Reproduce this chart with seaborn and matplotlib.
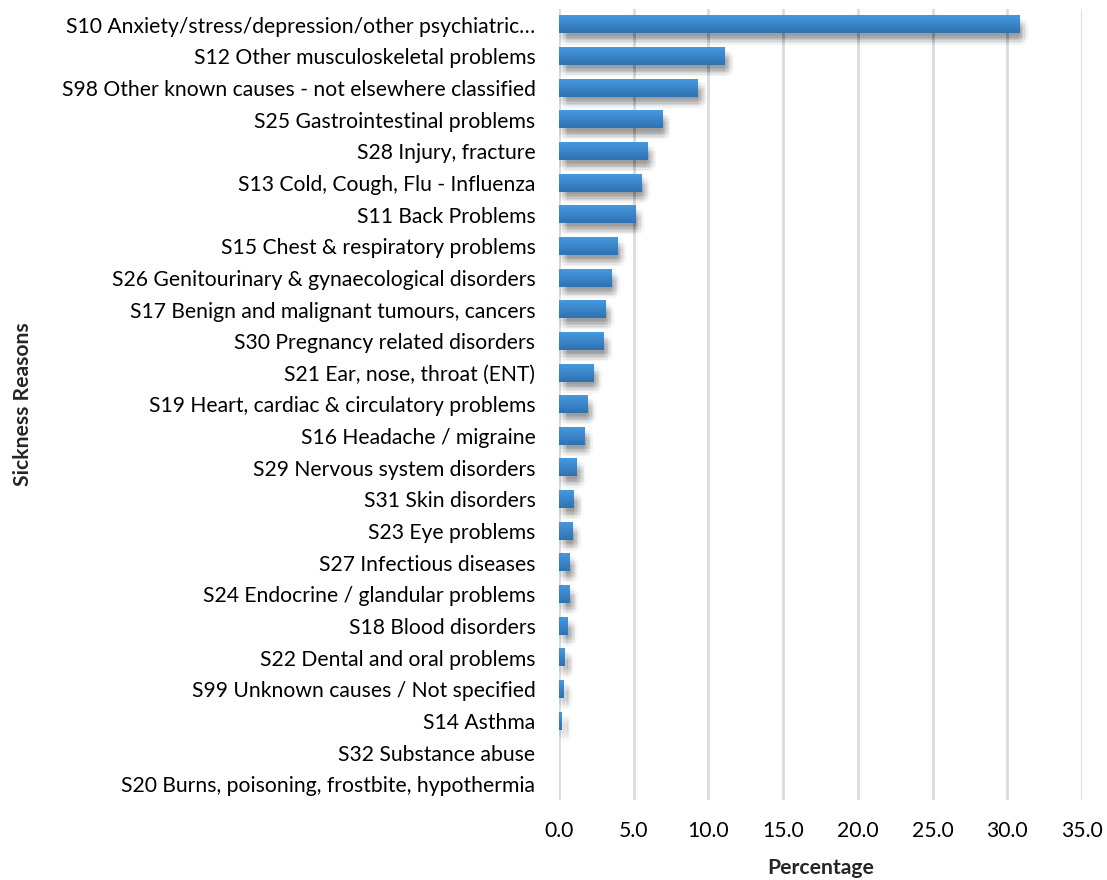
import numpy as np
import pandas as pd
import matplotlib
matplotlib.use("Agg")
import matplotlib.pyplot as plt
import matplotlib.patheffects as pe
from matplotlib.colors import LinearSegmentedColormap
import seaborn as sns

reasons = [
    "S10 Anxiety/stress/depression/other psychiatric…",
    "S12 Other musculoskeletal problems",
    "S98 Other known causes - not elsewhere classified",
    "S25 Gastrointestinal problems",
    "S28 Injury, fracture",
    "S13 Cold, Cough, Flu - Influenza",
    "S11 Back Problems",
    "S15 Chest & respiratory problems",
    "S26 Genitourinary & gynaecological disorders",
    "S17 Benign and malignant tumours, cancers",
    "S30 Pregnancy related disorders",
    "S21 Ear, nose, throat (ENT)",
    "S19 Heart, cardiac & circulatory problems",
    "S16 Headache / migraine",
    "S29 Nervous system disorders",
    "S31 Skin disorders",
    "S23 Eye problems",
    "S27 Infectious diseases",
    "S24 Endocrine / glandular problems",
    "S18 Blood disorders",
    "S22 Dental and oral problems",
    "S99 Unknown causes / Not specified",
    "S14 Asthma",
    "S32 Substance abuse",
    "S20 Burns, poisoning, frostbite, hypothermia",
]
percentages = [30.8, 11.1, 9.3, 6.9, 5.9, 5.5, 5.1, 3.9, 3.5, 3.1, 3.0,
               2.3, 1.9, 1.7, 1.2, 1.0, 0.9, 0.7, 0.7, 0.6, 0.4, 0.3,
               0.2, 0.03, 0.01]
x_ticks = [0, 5, 10, 15, 20, 25, 30, 35]

df = pd.DataFrame({"reason": reasons, "pct": percentages})

sns.set_theme(style="white")
plt.rcParams["font.family"] = ["Lato", "DejaVu Sans"]
FS = 15.2

fig = plt.figure(figsize=(11.07, 8.8), dpi=100)
ax = fig.add_axes([0.505, 0.0909, 0.4725, 0.899])

sns.barplot(data=df, x="pct", y="reason", order=reasons, orient="h",
            color="#3A86CF", width=0.55, linewidth=0, ax=ax, zorder=3)

# soft, blurred drop shadow: many faint offset copies around a centre offset
shadow = []
for dx in range(-4, 5):
    for dy in range(-4, 5):
        if dx * dx + dy * dy <= 16:
            shadow.append(pe.SimplePatchShadow(offset=(3 + dx, -5 + dy),
                                               shadow_rgbFace="#000000",
                                               alpha=0.0075))
shadow.append(pe.Normal())

grad_cmap = LinearSegmentedColormap.from_list("bar", ["#4599E2", "#2F71B0"])
grad = np.linspace(0, 1, 64).reshape(-1, 1)
for patch in ax.patches:
    x0, y0 = patch.get_x(), patch.get_y()
    w, h = patch.get_width(), patch.get_height()
    if w < 0.1:
        patch.set_facecolor("#C9DCEF")
        continue
    patch.set_path_effects(shadow)
    ax.imshow(grad, cmap=grad_cmap, extent=(x0, x0 + w, y0 + h, y0),
              origin="upper", aspect="auto", zorder=4, interpolation="bilinear")

ax.set_xlim(0, 35)
ax.set_ylim(len(reasons) - 0.5, -0.5)
ax.set_xticks(x_ticks)
ax.set_xticklabels([f"{t:.1f}" for t in x_ticks])
ax.grid(axis="x", color="#D9DCE1", linewidth=2, zorder=0)
ax.grid(axis="y", visible=False)
for s in ax.spines.values():
    s.set_visible(False)

ax.tick_params(axis="y", length=0, pad=17, labelsize=FS, labelcolor="#000000")
ax.tick_params(axis="x", length=0, pad=15, labelsize=FS, labelcolor="#000000")

ax.set_xlabel("Percentage", fontsize=FS, fontweight="bold", labelpad=12)
ax.set_ylabel("")
fig.text(0.021, 0.5 * (0.0909 * 2 + 0.899), "Sickness Reasons", rotation=90,
         ha="center", va="center", fontsize=FS, fontweight="bold")

fig.savefig("out.png", dpi=100, facecolor="white")
